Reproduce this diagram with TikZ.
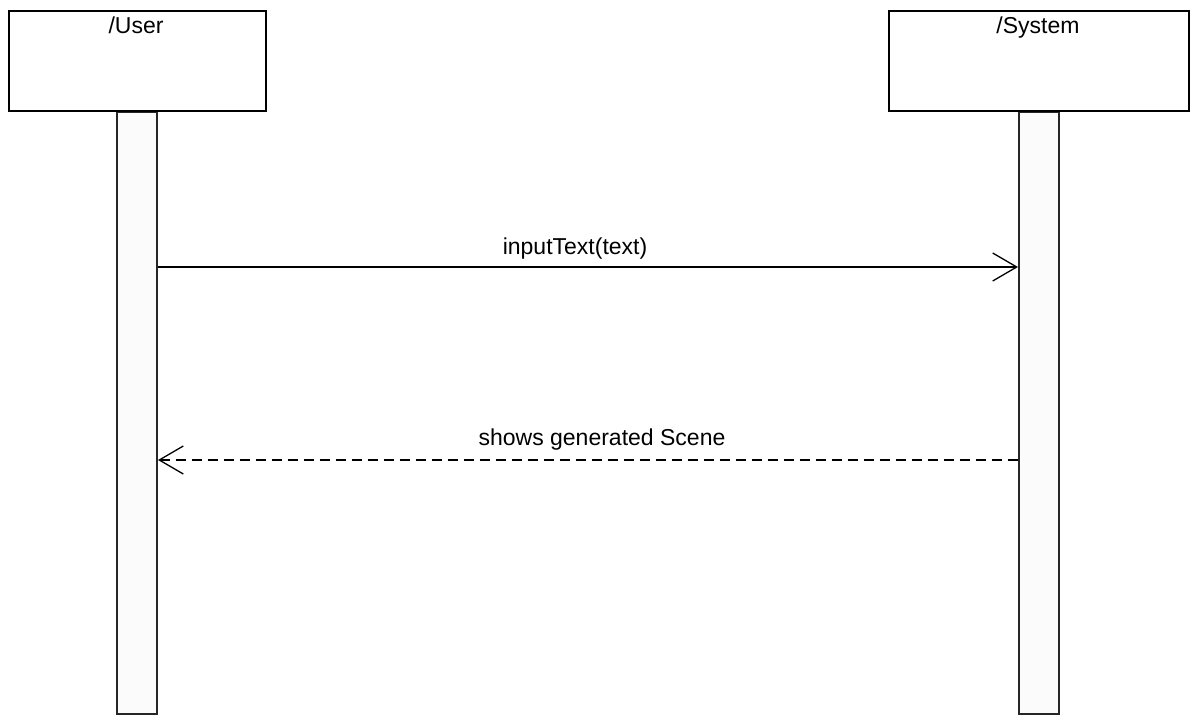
\documentclass[tikz,border=0pt]{standalone}
\usepackage{fontspec}
\setmainfont{Liberation Sans}
\usetikzlibrary{arrows.meta}
\begin{document}
\begin{tikzpicture}[x=1pt,y=-1pt,
  headbox/.style={draw=black, line width=2pt, fill=white, inner sep=0pt},
  lifebar/.style={draw=black!85, line width=2pt, fill=black!1.5, minimum width=40pt,
                  inner sep=0pt, anchor=north},
  txt/.style={font=\fontsize{23}{27}\selectfont, inner sep=0pt, anchor=base},
  msg/.style={line width=1.5pt, -{Straight Barb[length=24pt,width=28pt,line width=1.3pt]}},
  reply/.style={msg, dash pattern=on 10pt off 6pt}]
  \useasboundingbox (0,0) rectangle (1192,715);

  % lifelines (drawn first so the heads cover their tops)
  \node[lifebar, minimum height=602pt] (userbar) at (137,111) {};
  \node[lifebar, minimum height=602pt] (sysbar)  at (1039,111) {};

  % object heads
  \node[headbox, minimum width=257pt, minimum height=100pt] (user) at (137.5,61) {};
  \node[headbox, minimum width=300pt, minimum height=100pt] (sys)  at (1039,61) {};
  \node[txt] (userlbl) at (136,33) {/User};
  \node[txt] (syslbl)  at (1038,33) {/System};

  % messages
  \coordinate (y1) at (0,267);
  \coordinate (y2) at (0,460);
  \draw[msg]   (userbar.east |- y1) -- (sysbar.west |- y1);
  \node[txt] (m1) at (575,254) {inputText(text)};
  \draw[reply] (sysbar.west |- y2) -- (userbar.east |- y2);
  \node[txt] (m2) at (602,445) {shows generated Scene};
\end{tikzpicture}
\end{document}
